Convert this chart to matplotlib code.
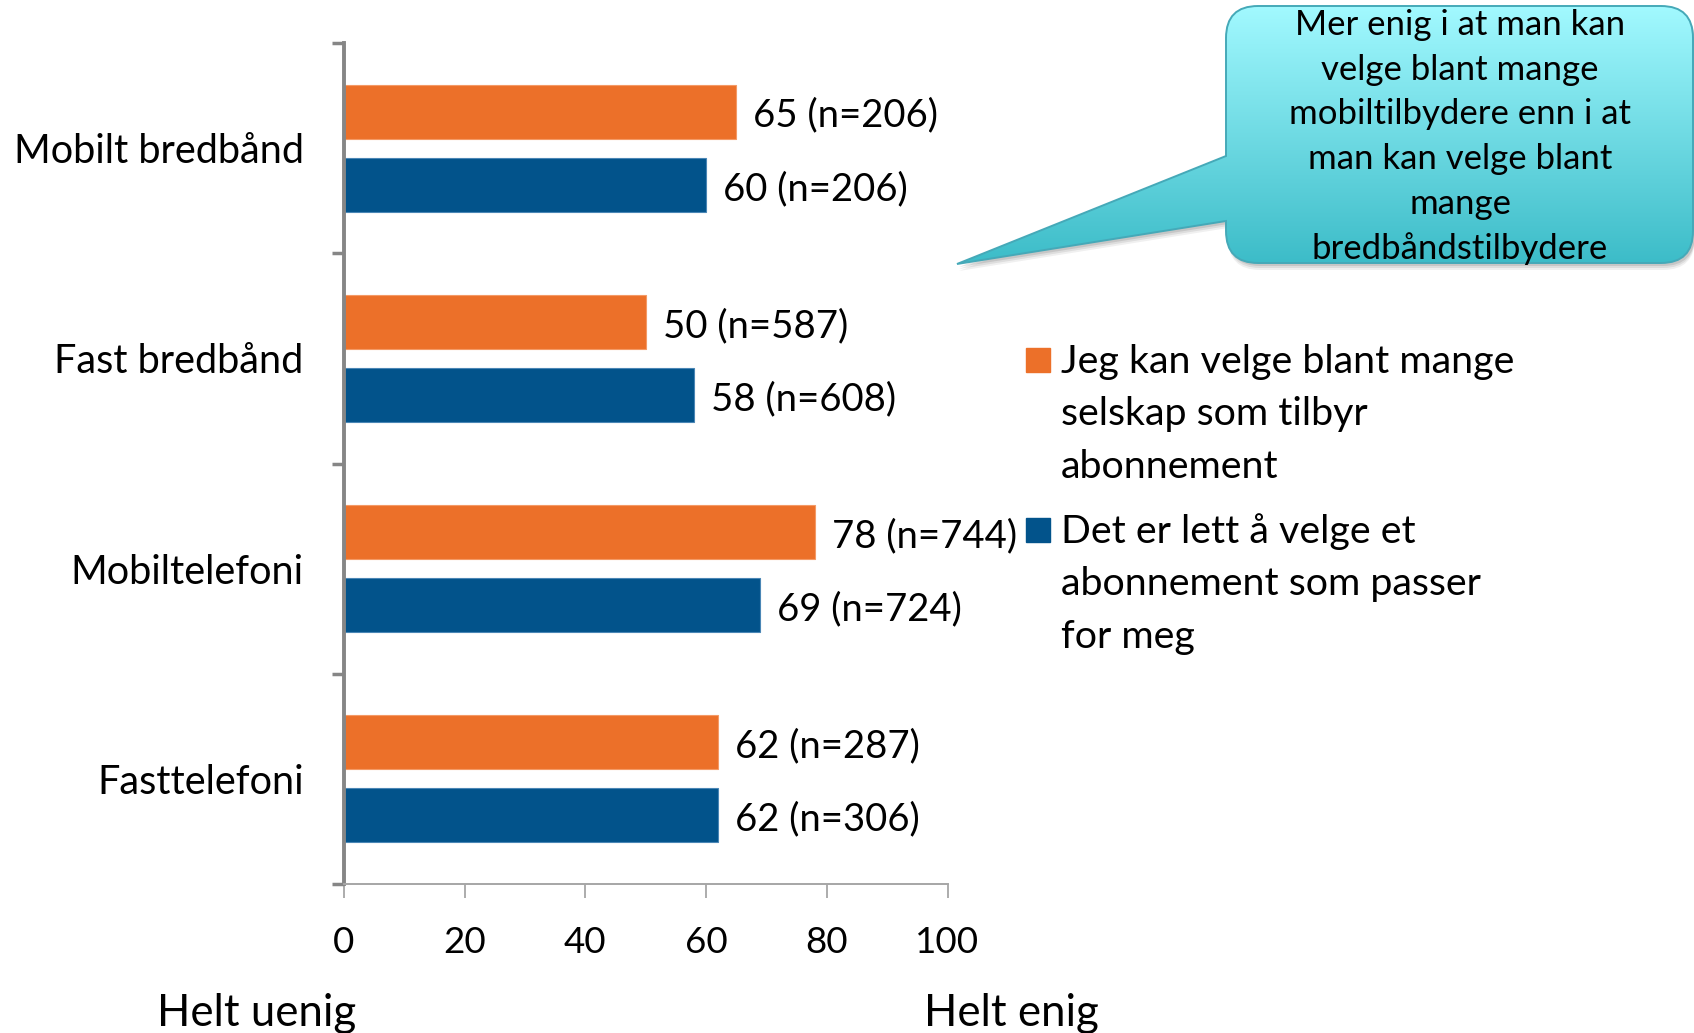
import numpy as np
import matplotlib
matplotlib.use("Agg")
import matplotlib.pyplot as plt
from matplotlib.path import Path
from matplotlib.patches import PathPatch, Rectangle

plt.rcParams['font.family'] = ['Lato', 'DejaVu Sans']

# Data
categories = ["Mobilt bredbånd", "Fast bredbånd", "Mobiltelefoni", "Fasttelefoni"]
choice_values = [65, 50, 78, 62]
choice_n = [206, 587, 744, 287]
easy_values = [60, 58, 69, 62]
easy_n = [206, 608, 724, 306]
series_labels = ["Jeg kan velge blant mange\nselskap som tilbyr\nabonnement",
                 "Det er lett å velge et\nabonnement som passer\nfor meg"]
callout_text = ("Mer enig i at man kan\nvelge blant mange\nmobiltilbydere enn i at\n"
                "man kan velge blant\nmange\nbredbåndstilbydere")
xticks = [0, 20, 40, 60, 80, 100]

orange = "#EC7029"
blue = "#02538B"

W, H = 1694, 1033
fig = plt.figure(figsize=(W / 100, H / 100), dpi=100)
ax = fig.add_axes([344 / W, 1 - 884 / H, (947.5 - 344) / W, (884 - 43) / H])

y = np.arange(len(categories))
bh = 0.257
off = 0.174
ax.barh(y - off, choice_values, height=bh, color=orange, edgecolor="#F49A66", linewidth=0.8)
ax.barh(y + off, easy_values, height=bh, color=blue, edgecolor="#4A86B5", linewidth=0.8)

for yi, v, n in zip(y - off, choice_values, choice_n):
    ax.text(v + 2.8, yi + 0.02, f"{v} (n={n})", va="center", ha="left", fontsize=27.5)
for yi, v, n in zip(y + off, easy_values, easy_n):
    ax.text(v + 2.8, yi + 0.02, f"{v} (n={n})", va="center", ha="left", fontsize=27.5)

ax.set_xlim(0, 100)
ax.set_ylim(len(categories) - 0.5, -0.5)
ax.set_xticks(xticks)
ax.set_xticklabels([str(t) for t in xticks], fontsize=26.5)
ax.set_yticks(np.arange(-0.5, len(categories), 1.0))
ax.set_yticklabels([])
ax.set_yticks(y, minor=True)
ax.set_yticklabels(categories, minor=True, fontsize=28.5)
ax.tick_params(axis="y", which="major", direction="out", length=9, width=2.5, color="#868686")
ax.tick_params(axis="y", which="minor", length=0, pad=29)
ax.tick_params(axis="x", direction="out", length=10, width=1.3, color="#A6A6A6", pad=20)

for s in ["top", "right"]:
    ax.spines[s].set_visible(False)
ax.spines["left"].set_color("#868686")
ax.spines["left"].set_linewidth(2.8)
ax.spines["bottom"].set_color("#A6A6A6")
ax.spines["bottom"].set_linewidth(1.4)

# Overlay in pixel coordinates for annotations
ov = fig.add_axes([0, 0, 1, 1], zorder=5)
ov.set_xlim(0, W)
ov.set_ylim(H, 0)
ov.axis("off")

ov.text(157, 1013, "Helt uenig", fontsize=31.5, va="center", ha="left")
ov.text(924, 1013, "Helt enig", fontsize=31.5, va="center", ha="left")

# Legend
legend_colors = [orange, blue]
legend_top = [360, 530]
for col, lab, ty in zip(legend_colors, series_labels, legend_top):
    ov.add_patch(Rectangle((1026, ty - 12), 24, 24, color=col))
    for k, line in enumerate(lab.split("\n")):
        ov.text(1061, ty + 2 + k * 52.4, line, fontsize=28.4, va="center", ha="left")

# Speech bubble with tail
x0, x1, y0, y1, r = 1226, 1693, 6, 263, 32
tip = (957, 264)
verts = [
    (x0 + r, y0), (x1 - r, y0), (x1, y0), (x1, y0 + r),
    (x1, y1 - r), (x1, y1), (x1 - r, y1),
    (x0 + r, y1), (x0, y1), (x0, y1 - r),
    (x0, 221), tip, (x0, 156),
    (x0, y0 + r), (x0, y0), (x0 + r, y0), (x0 + r, y0),
]
codes = [
    Path.MOVETO, Path.LINETO, Path.CURVE3, Path.CURVE3,
    Path.LINETO, Path.CURVE3, Path.CURVE3,
    Path.LINETO, Path.CURVE3, Path.CURVE3,
    Path.LINETO, Path.LINETO, Path.LINETO,
    Path.LINETO, Path.CURVE3, Path.CURVE3, Path.CLOSEPOLY,
]
bubble = Path(verts, codes)

# soft shadow
for dy, a in [(7, 0.06), (5, 0.08), (3, 0.10)]:
    sh = Path(np.array(verts) + np.array([2, dy]), codes)
    ov.add_patch(PathPatch(sh, facecolor="#000000", edgecolor="none", alpha=a))

grad = np.linspace(0, 1, 256).reshape(-1, 1)
cmap = matplotlib.colors.LinearSegmentedColormap.from_list("bub", ["#A2F9FF", "#3CBCC8"])
im = ov.imshow(grad, cmap=cmap, extent=(900, W, 264, 6), aspect="auto", zorder=6)
patch = PathPatch(bubble, facecolor="none", edgecolor="#45A9B8", linewidth=1.4, zorder=7)
ov.add_patch(patch)
im.set_clip_path(patch)
ov.set_xlim(0, W)
ov.set_ylim(H, 0)

for k, line in enumerate(callout_text.split("\n")):
    ov.text(1460, 25 + k * 44.7, line, fontsize=25, va="center", ha="center", zorder=8)

fig.savefig("out.png", dpi=100)
